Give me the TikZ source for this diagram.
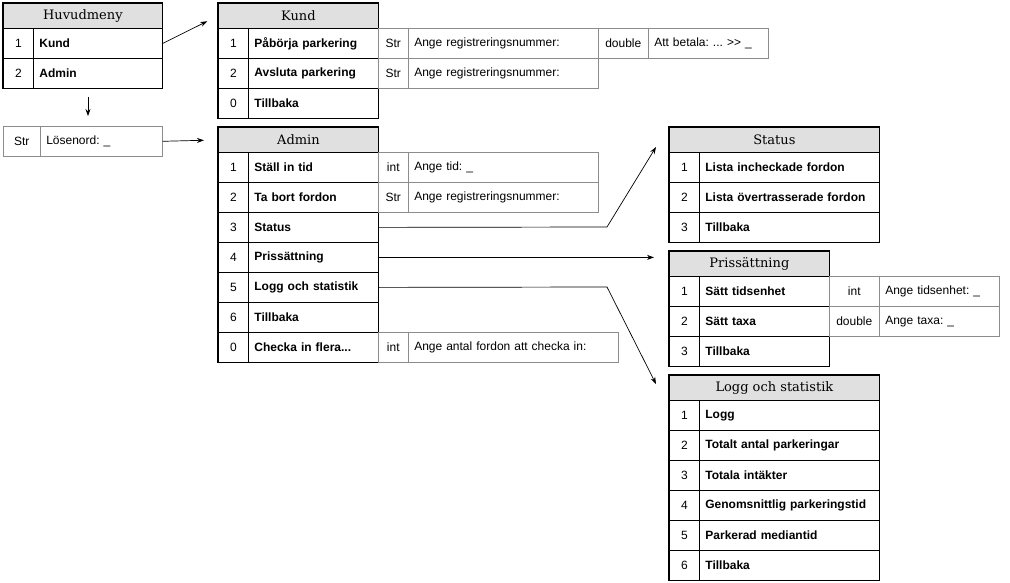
\documentclass[tikz,border=0pt]{standalone}
\usepackage{fontspec}
\setmainfont{Liberation Sans}
\newfontfamily\titlefont{DejaVu Serif}
\usetikzlibrary{arrows.meta}
\frenchspacing

\tikzset{
  cell/.style={draw, line width=0.8pt, inner sep=0pt, anchor=north west, minimum height=30pt},
  titlebox/.style={cell, fill=black!12, minimum height=25pt, font=\titlefont\fontsize{13}{15}\selectfont},
  nrbox/.style={cell, minimum width=30pt, font=\fontsize{12}{14}\selectfont},
  itembox/.style={cell, inner xsep=6pt, align=left, text width=#1, font=\bfseries\fontsize{12}{14}\selectfont},
  frame/.style={draw, line width=1.2pt},
  typebox/.style={draw=black!45, line width=0.6pt, inner sep=0pt, anchor=north west, minimum height=30pt, minimum width=#1, font=\fontsize{12}{14}\selectfont},
  promptbox/.style={typebox=10pt, inner xsep=6pt, align=left, text width=#1},
  link/.style={-{Stealth[length=7pt,width=5pt]}, line width=0.7pt},
}

\begin{document}
\begin{tikzpicture}[x=1pt, y=-1pt]
%%%%% START %%%%%
\useasboundingbox (0,0) rectangle (1010,583);

% Huvudmeny
\node[titlebox, minimum width=159pt] (hm) at (3,3) {Huvudmeny};
\foreach \n/\t [count=\i] in {1/Kund, 2/Admin} {
  \node[nrbox] (hm-nr\i) at (3,{28+30*(\i-1)}) {\n};
  \node[itembox=117pt] (hm-\i) at (33,{28+30*(\i-1)}) {\t};
}
\draw[frame] (hm.north west) rectangle (hm-2.south east);

% password
\node[typebox=37pt] (pw-t) at (3,126) {Str};
\node[promptbox=110pt] (pw) at (40,126) {Lösenord: \_};

% Kund
\node[titlebox, minimum width=160pt] (ku) at (218,3) {Kund};
\foreach \n/\t [count=\i] in {1/Påbörja parkering, 2/Avsluta parkering, 0/Tillbaka} {
  \node[nrbox] (ku-nr\i) at (218,{28+30*(\i-1)}) {\n};
  \node[itembox=118pt] (ku-\i) at (248,{28+30*(\i-1)}) {\t};
}
\draw[frame] (ku.north west) rectangle (ku-3.south east);

\node[typebox=30pt] (ku-t1) at (378,28) {Str};
\node[promptbox=178pt] (ku-p1) at (408,28) {Ange registreringsnummer:};
\node[typebox=50pt] (ku-t1b) at (598,28) {double};
\node[promptbox=108pt] (ku-p1b) at (648,28) {Att betala: ... >{}> \_};
\node[typebox=30pt] (ku-t2) at (378,58) {Str};
\node[promptbox=178pt] (ku-p2) at (408,58) {Ange registreringsnummer:};

% Admin
\node[titlebox, minimum width=160pt] (ad) at (218,127) {Admin};
\foreach \n/\t [count=\i] in {1/Ställ in tid, 2/Ta bort fordon, 3/Status, 4/Prissättning,
    5/Logg och statistik, 6/Tillbaka, 0/{Checka in flera...}} {
  \node[nrbox] (ad-nr\i) at (218,{152+30*(\i-1)}) {\n};
  \node[itembox=118pt] (ad-\i) at (248,{152+30*(\i-1)}) {\t};
}
\draw[frame] (ad.north west) rectangle (ad-7.south east);

\node[typebox=30pt] (ad-t1) at (378,152) {int};
\node[promptbox=178pt] (ad-p1) at (408,152) {Ange tid: \_};
\node[typebox=30pt] (ad-t2) at (378,182) {Str};
\node[promptbox=178pt] (ad-p2) at (408,182) {Ange registreringsnummer:};
\node[typebox=30pt] (ad-t7) at (378,332) {int};
\node[promptbox=198pt] (ad-p7) at (408,332) {Ange antal fordon att checka in:};

% Status
\node[titlebox, minimum width=210pt] (st) at (669,127) {Status};
\foreach \n/\t [count=\i] in {1/Lista incheckade fordon, 2/Lista övertrasserade fordon, 3/Tillbaka} {
  \node[nrbox] (st-nr\i) at (669,{152+30*(\i-1)}) {\n};
  \node[itembox=168pt] (st-\i) at (699,{152+30*(\i-1)}) {\t};
}
\draw[frame] (st.north west) rectangle (st-3.south east);

% Prissattning
\node[titlebox, minimum width=160pt] (pr) at (669,251) {Prissättning};
\foreach \n/\t [count=\i] in {1/Sätt tidsenhet, 2/Sätt taxa, 3/Tillbaka} {
  \node[nrbox] (pr-nr\i) at (669,{276+30*(\i-1)}) {\n};
  \node[itembox=118pt] (pr-\i) at (699,{276+30*(\i-1)}) {\t};
}
\draw[frame] (pr.north west) rectangle (pr-3.south east);

\node[typebox=50pt] (pr-t1) at (829,276) {int};
\node[promptbox=108pt] (pr-p1) at (879,276) {Ange tidsenhet: \_};
\node[typebox=50pt] (pr-t2) at (829,306) {double};
\node[promptbox=108pt] (pr-p2) at (879,306) {Ange taxa: \_};

% Logg och statistik
\node[titlebox, minimum width=210pt] (lo) at (669,375) {Logg och statistik};
\foreach \n/\t [count=\i] in {1/Logg, 2/Totalt antal parkeringar, 3/Totala intäkter,
    4/Genomsnittlig parkeringstid, 5/Parkerad mediantid, 6/Tillbaka} {
  \node[nrbox] (lo-nr\i) at (669,{400+30*(\i-1)}) {\n};
  \node[itembox=168pt] (lo-\i) at (699,{400+30*(\i-1)}) {\t};
}
\draw[frame] (lo.north west) rectangle (lo-6.south east);

% arrows
\coordinate (dn-a) at (88,97);
\coordinate (dn-b) at (88,116);
\coordinate (st-bend) at (607,227);
\coordinate (st-tip) at (656,147);
\coordinate (lo-bend) at (607,287);
\coordinate (lo-tip) at (656,384);

\draw[link, shorten >=12pt] (hm-1.east) -- (ku.west);
\draw[link] (dn-a) -- (dn-b);
\draw[link, shorten >=14pt] (pw.east) -- (ad.west);
\draw[link] (ad-3.east) -- (st-bend) -- (st-tip);
\draw[link, shorten >=15pt] (ad-4.east) -- (ad-4.east -| pr.west);
\draw[link] (ad-5.east) -- (lo-bend) -- (lo-tip);
%%%%% END %%%%%
\end{tikzpicture}
\end{document}
